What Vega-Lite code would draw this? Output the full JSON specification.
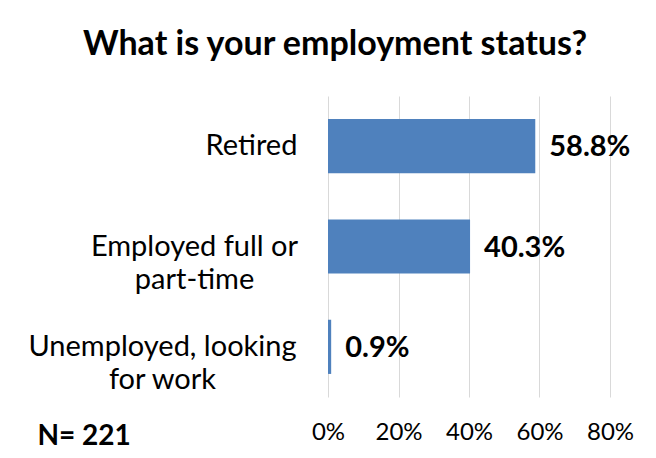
{
  "$schema": "https://vega.github.io/schema/vega-lite/v6.json",
  "autosize": {"type": "none"},
  "width": 282,
  "height": 301,
  "padding": {"left": 328, "top": 96, "right": 46, "bottom": 61},
  "background": "white",
  "config": {"view": {"stroke": null}, "font": "Lato"},
  "title": {
    "text": "What is your employment status?",
    "font": "Lato",
    "fontSize": 34,
    "fontWeight": "bold",
    "color": "#000000",
    "anchor": "middle",
    "frame": "group",
    "dx": -134,
    "baseline": "alphabetic",
    "offset": 7
  },
  "data": {
    "values": [
      {"status": "Retired", "share": 0.588},
      {"status": "Employed full or part-time", "share": 0.403},
      {"status": "Unemployed, looking for work", "share": 0.009}
    ]
  },
  "encoding": {
    "y": {
      "field": "status",
      "type": "nominal",
      "sort": null,
      "scale": {"paddingInner": 0.46, "paddingOuter": 0.23},
      "axis": {
        "title": null,
        "domain": false,
        "ticks": false,
        "tickSize": 0,
        "grid": false,
        "labelFont": "Lato",
        "labelFontSize": 29,
        "labelColor": "#000000",
        "labelLimit": 400,
        "labelAlign": "center",
        "labelBaseline": "middle",
        "labelLineHeight": 33,
        "labelPadding": {
          "condition": [
            {"test": "datum.value == 'Retired'", "value": 77},
            {"test": "datum.value == 'Employed full or part-time'", "value": 134}
          ],
          "value": 166
        },
        "labelExpr": "datum.value == 'Employed full or part-time' ? ['Employed full or', 'part-time'] : datum.value == 'Unemployed, looking for work' ? ['Unemployed, looking', 'for work'] : datum.value"
      }
    },
    "x": {
      "field": "share",
      "type": "quantitative",
      "scale": {"domain": [0, 0.8], "nice": false},
      "axis": {
        "values": [0, 0.2, 0.4, 0.6, 0.8],
        "format": ".0%",
        "domain": false,
        "ticks": false,
        "tickSize": 0,
        "grid": true,
        "gridColor": "#D9D9D9",
        "gridWidth": 1,
        "labelFont": "Lato",
        "labelFontSize": 24,
        "labelColor": "#000000",
        "labelBaseline": "alphabetic",
        "labelPadding": 42,
        "labelFlush": false,
        "title": "N= 221",
        "titleFont": "Lato",
        "titleFontSize": 28,
        "titleFontWeight": "bold",
        "titleColor": "#000000",
        "titleAlign": "left",
        "titleBaseline": "alphabetic",
        "titleAnchor": "start",
        "titleX": -291,
        "titleY": 47
      }
    }
  },
  "layer": [
    {"mark": {"type": "bar", "color": "#4F81BD"}},
    {
      "mark": {
        "type": "text",
        "align": "left",
        "baseline": "middle",
        "dx": 14,
        "dy": 1,
        "font": "Lato",
        "fontSize": 29,
        "fontWeight": "bold",
        "color": "#000000"
      },
      "encoding": {"text": {"field": "share", "type": "quantitative", "format": ".1%"}}
    }
  ]
}
